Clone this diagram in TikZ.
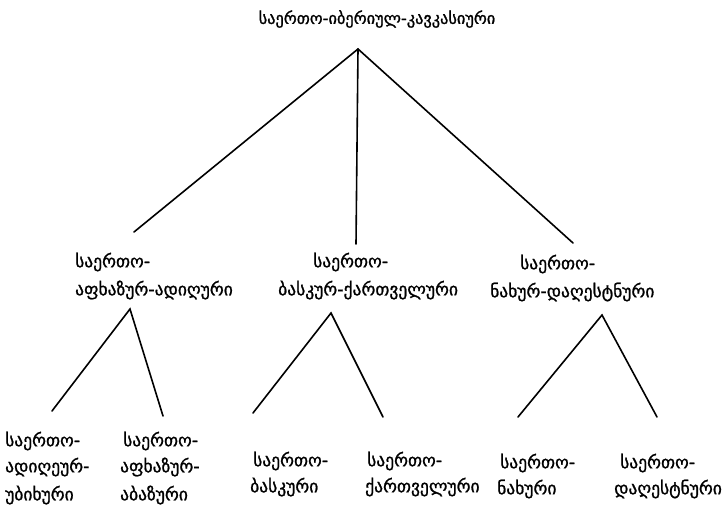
\documentclass[tikz,border=0pt]{standalone}
\usepackage{fontspec}
\setmainfont{DejaVu Sans}[FakeBold=1.2]
\begin{document}
\begin{tikzpicture}[x=1pt,y=-1pt,
  lbl/.style={anchor=west,inner sep=0pt,font=\fontsize{17.5}{20}\selectfont},
  toplbl/.style={anchor=center,inner sep=0pt,font=\fontsize{16.3}{19}\selectfont},
  branch/.style={line width=1.6pt,line cap=round}]
\useasboundingbox (0,0) rectangle (728,521);

% root
\node[toplbl] (root) at (377,19) {საერთო-იბერიულ-კავკასიური};
\coordinate (r) at (358,49);
\coordinate (rl) at (134,232);
\coordinate (rm) at (356,244);
\coordinate (rr) at (573,243);
\draw[branch] (rl) -- (r) -- (rr);
\draw[branch] (r) -- (rm);

% second level
\node[lbl] (a1) at (75,262) {საერთო-};
\node[lbl] (a2) at (75,290) {აფხაზურ-ადიღური};
\node[lbl] (b1) at (313,262) {საერთო-};
\node[lbl] (b2) at (278,290) {ბასკურ-ქართველური};
\node[lbl] (c1) at (520,264) {საერთო-};
\node[lbl] (c2) at (490,292) {ნახურ-დაღესტნური};

% left subtree
\coordinate (a) at (130,309);
\coordinate (al) at (52,411);
\coordinate (ar) at (163,416);
\draw[branch] (al) -- (a) -- (ar);
% middle subtree
\coordinate (b) at (331,313);
\coordinate (bl) at (253,413);
\coordinate (br) at (383,417);
\draw[branch] (bl) -- (b) -- (br);
% right subtree
\coordinate (c) at (602,315);
\coordinate (cl) at (518,417);
\coordinate (cr) at (657,417);
\draw[branch] (cl) -- (c) -- (cr);

% leaves
\node[lbl] (l1a) at (5,441) {საერთო-};
\node[lbl] (l1b) at (5,467) {ადიღეურ-};
\node[lbl] (l1c) at (5,495) {უბიხური};
\node[lbl] (l2a) at (123,441) {საერთო-};
\node[lbl] (l2b) at (120,467) {აფხაზურ-};
\node[lbl] (l2c) at (120,495) {აბაზური};
\node[lbl] (l3a) at (253,461) {საერთო-};
\node[lbl] (l3b) at (250,487) {ბასკური};
\node[lbl] (l4a) at (367,461) {საერთო-};
\node[lbl] (l4b) at (365,487) {ქართველური};
\node[lbl] (l5a) at (500,463) {საერთო-};
\node[lbl] (l5b) at (497,489) {ნახური};
\node[lbl] (l6a) at (620,463) {საერთო-};
\node[lbl] (l6b) at (614,489) {დაღესტნური};
\end{tikzpicture}
\end{document}
